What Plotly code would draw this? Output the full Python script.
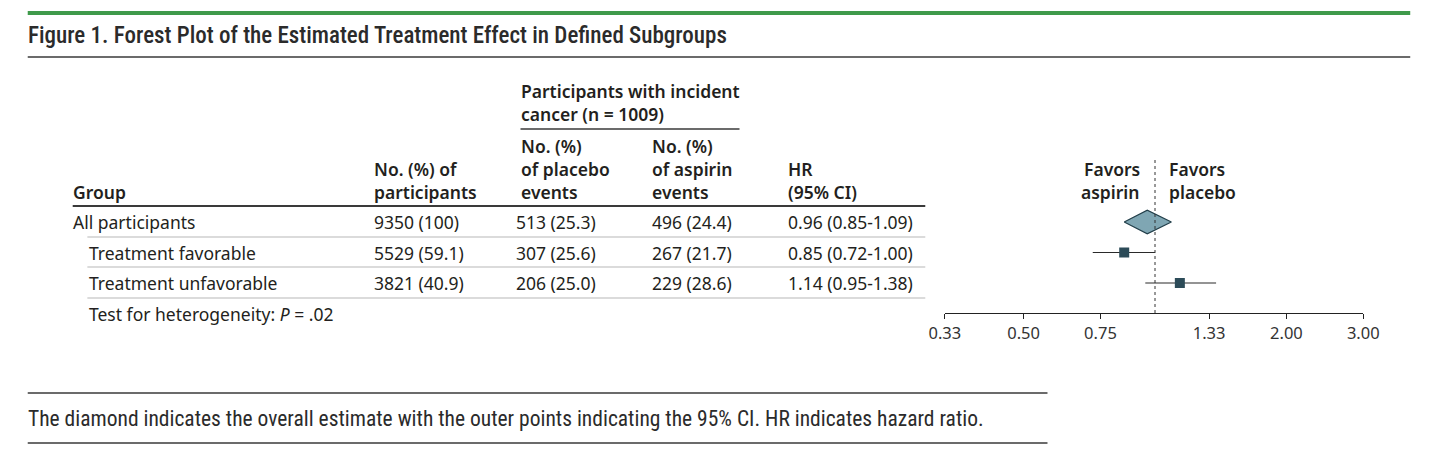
import plotly.graph_objects as go
import math

W, H = 1436, 450

# ---- data ----
groups = ["All participants", "Treatment favorable", "Treatment unfavorable"]
participants = ["9350 (100)", "5529 (59.1)", "3821 (40.9)"]
placebo_events = ["513 (25.3)", "307 (25.6)", "206 (25.0)"]
aspirin_events = ["496 (24.4)", "267 (21.7)", "229 (28.6)"]
hr = [0.96, 0.85, 1.14]
ci_lo = [0.85, 0.72, 0.95]
ci_hi = [1.09, 1.00, 1.38]
tick_vals = [0.33, 0.50, 0.75, 1.33, 2.00, 3.00]
tick_text = ["0.33", "0.50", "0.75", "1.33", "2.00", "3.00"]
heterogeneity_p = ".02"

title = "Figure 1. Forest Plot of the Estimated Treatment Effect in Defined Subgroups"
footnote = ("The diamond indicates the overall estimate with the outer points indicating "
            "the 95% CI. HR indicates hazard ratio.")

def px(x):
    return x / W

def py(y):
    return 1 - y / H

TXT = "#231f20"
FONT = "Noto Sans, Open Sans, sans-serif"
COND = "Liberation Sans Narrow, Roboto Condensed, Arial Narrow, Roboto, sans-serif"

fig = go.Figure()

# ---- forest plot ----
row_y = list(range(len(groups)))
cx, cy = [], []
for i in range(1, len(groups)):
    cx += [ci_lo[i], ci_hi[i], None]
    cy += [row_y[i], row_y[i], None]
fig.add_trace(go.Scatter(x=cx, y=cy, mode="lines",
                         line=dict(color="#2a2a2a", width=1.2),
                         hoverinfo="skip", showlegend=False))
fig.add_trace(go.Scatter(x=hr[1:], y=row_y[1:], mode="markers",
                         marker=dict(symbol="square", size=10, color="#2c4b58"),
                         showlegend=False))
dh = 0.39
fig.add_trace(go.Scatter(x=[ci_lo[0], hr[0], ci_hi[0], hr[0], ci_lo[0]],
                         y=[row_y[0], row_y[0] - dh, row_y[0], row_y[0] + dh, row_y[0]],
                         mode="lines", fill="toself", fillcolor="#7fa6b3",
                         line=dict(color="#233f4a", width=1.2),
                         showlegend=False))

ybot_px, ytop_px = 313, 160
row_px0, row_step = 222, 30.5
y_range = [(ybot_px - row_px0) / row_step, (ytop_px - row_px0) / row_step]

fig.update_xaxes(type="log", range=[math.log10(0.33), math.log10(3.0)],
                 domain=[px(950), px(1378)],
                 tickvals=tick_vals, ticktext=tick_text,
                 ticks="outside", ticklen=5, tickwidth=1.2, tickcolor="#222",
                 showline=True, linecolor="#222", linewidth=1.3,
                 showgrid=False, zeroline=False,
                 tickfont=dict(family=FONT, size=16.5, color="#333"))
fig.update_yaxes(range=y_range, domain=[py(ybot_px), py(ytop_px)],
                 visible=False, showgrid=False, zeroline=False)

shapes = []
shapes.append(dict(type="line", xref="x", yref="y domain", x0=1, x1=1, y0=0, y1=1,
                   line=dict(color="#333", width=1, dash="dot")))

def hline(y, x0, x1, color, width):
    shapes.append(dict(type="line", xref="paper", yref="paper",
                       x0=px(x0), x1=px(x1), y0=py(y), y1=py(y),
                       line=dict(color=color, width=width)))

hline(13, 12, 1426, "#3f9a4b", 4)
hline(57, 12, 1426, "#3a3a3a", 1.5)
hline(129, 516, 740, "#3a3a3a", 1.5)
hline(206, 58, 930, "#3a3a3a", 2)
for y in [237, 267, 298]:
    hline(y, 73, 930, "#cfcfcf", 1.5)
hline(393, 12, 1055, "#3a3a3a", 1.5)
hline(443, 12, 1055, "#3a3a3a", 1.5)

ann = []

def text(x, y, s, size=17.5, family=FONT, color=TXT, xanchor="left", weight=None):
    f = dict(family=family, size=size, color=color)
    if weight:
        f["weight"] = weight
    ann.append(dict(xref="paper", yref="paper", x=px(x), y=py(y), text=s,
                    showarrow=False, xanchor=xanchor, yanchor="middle",
                    font=f))

text(10, 36, title, size=23, family=COND, color="#2b2b2b", weight=500)
text(10, 418, footnote, size=21.5, family=COND, color="#2b2b2b")

HW = 600
text(514, 91, "Participants with incident", weight=HW)
text(514, 114, "cancer (n = 1009)", weight=HW)
text(514, 146, "No. (%)", weight=HW)
text(514, 169, "of placebo", weight=HW)
text(514, 192, "events", weight=HW)
text(648, 146, "No. (%)", weight=HW)
text(648, 169, "of aspirin", weight=HW)
text(648, 192, "events", weight=HW)
text(788, 169, "HR", weight=HW)
text(788, 192, "(95% CI)", weight=HW)
text(364, 169, "No. (%) of", weight=HW)
text(364, 192, "participants", weight=HW)
text(56, 192, "Group", weight=HW)
text(1152, 169, "Favors", xanchor="right", weight=HW)
text(1152, 192, "aspirin", xanchor="right", weight=HW)
text(1177, 169, "Favors", weight=HW)
text(1177, 192, "placebo", weight=HW)

for i, g in enumerate(groups):
    y = row_px0 + i * row_step
    text(56 if i == 0 else 73, y, g)
    text(364, y, participants[i])
    text(509, y, placebo_events[i])
    text(648, y, aspirin_events[i])
    text(788, y, f"{hr[i]:.2f} ({ci_lo[i]:.2f}-{ci_hi[i]:.2f})")
text(73, row_px0 + 3 * row_step, f"Test for heterogeneity: <i>P</i> = {heterogeneity_p}")

fig.update_layout(width=W, height=H, margin=dict(l=0, r=0, t=0, b=0),
                  paper_bgcolor="white", plot_bgcolor="white",
                  shapes=shapes, annotations=ann, showlegend=False)

fig.write_html("out.html", config={"displayModeBar": False},
               post_script="document.body.style.margin='0';document.body.style.overflow='hidden';")
